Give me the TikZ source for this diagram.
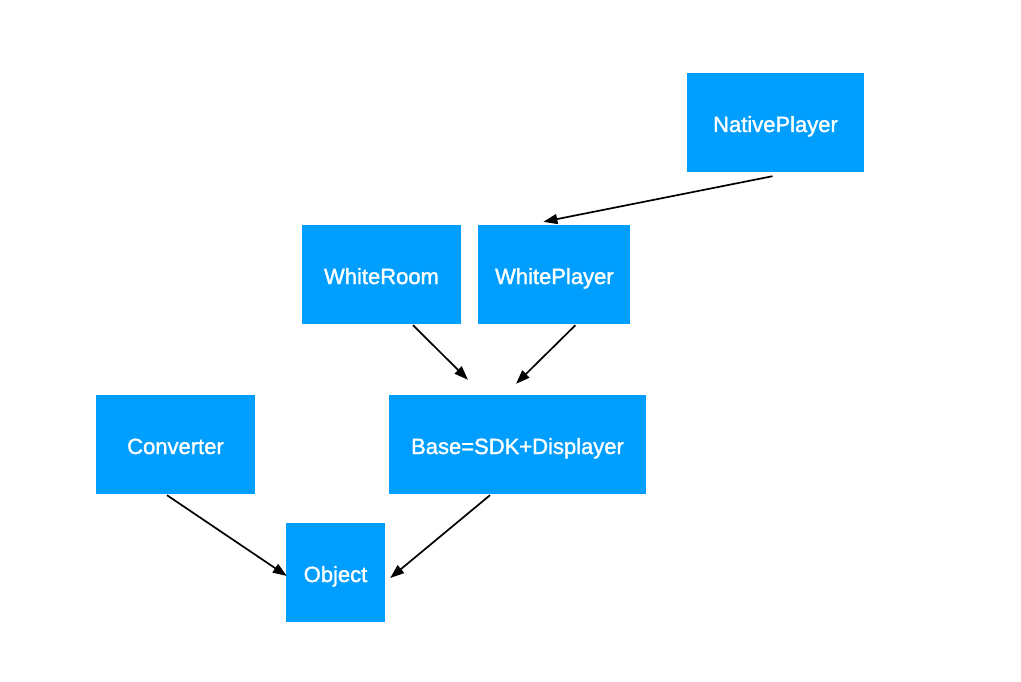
\documentclass[tikz,border=0pt]{standalone}
\usepackage{fontspec}
\setmainfont{Liberation Sans}
\usepackage{tikz}
\usetikzlibrary{arrows.meta,positioning,calc}
\definecolor{boxblue}{RGB}{0,159,255}
\tikzset{
  block/.style={rectangle, fill=boxblue, text=white, inner sep=0pt,
                minimum height=99pt, text height=22pt, text depth=3pt,
                align=center,
                font=\fontsize{22}{26}\selectfont\addfontfeature{FakeBold=1.5}},
  arrow/.style={-{Triangle[length=14pt, width=10pt]}, line width=1.7pt, black},
}
\begin{document}
\begin{tikzpicture}[x=1pt, y=-1pt]
\useasboundingbox (0,0) rectangle (1021,682);
\node[block, minimum width=177pt] (native) at (775.5,122.5) {NativePlayer};
\node[block, minimum width=159pt] (room) at (381.5,274.5) {WhiteRoom};
\node[block, minimum width=152pt, right=17pt of room] (player) {WhitePlayer};
\node[block, minimum width=159pt] (conv) at (175.5,444.5) {Converter};
\node[block, minimum width=257pt] (base) at (517.5,444.5) {Base=SDK+Displayer};
\node[block, minimum width=99pt] (obj) at (335.5,572.5) {Object};
\draw[arrow] ($(native.south)+(-3,4)$) -- ($(player.north)+(-11,-3)$);
\draw[arrow] ($(room.south)+(31.5,1)$) -- ($(base.north)+(-49.5,-15)$);
\draw[arrow] ($(player.south)+(21,1)$) -- ($(base.north)+(-1.5,-11)$);
\draw[arrow] ($(conv.south)+(-8.5,1)$) -- ($(obj.west)+(1,3.5)$);
\draw[arrow] ($(base.south)+(-27.5,1)$) -- ($(obj.east)+(5,5.5)$);
\end{tikzpicture}
\end{document}
